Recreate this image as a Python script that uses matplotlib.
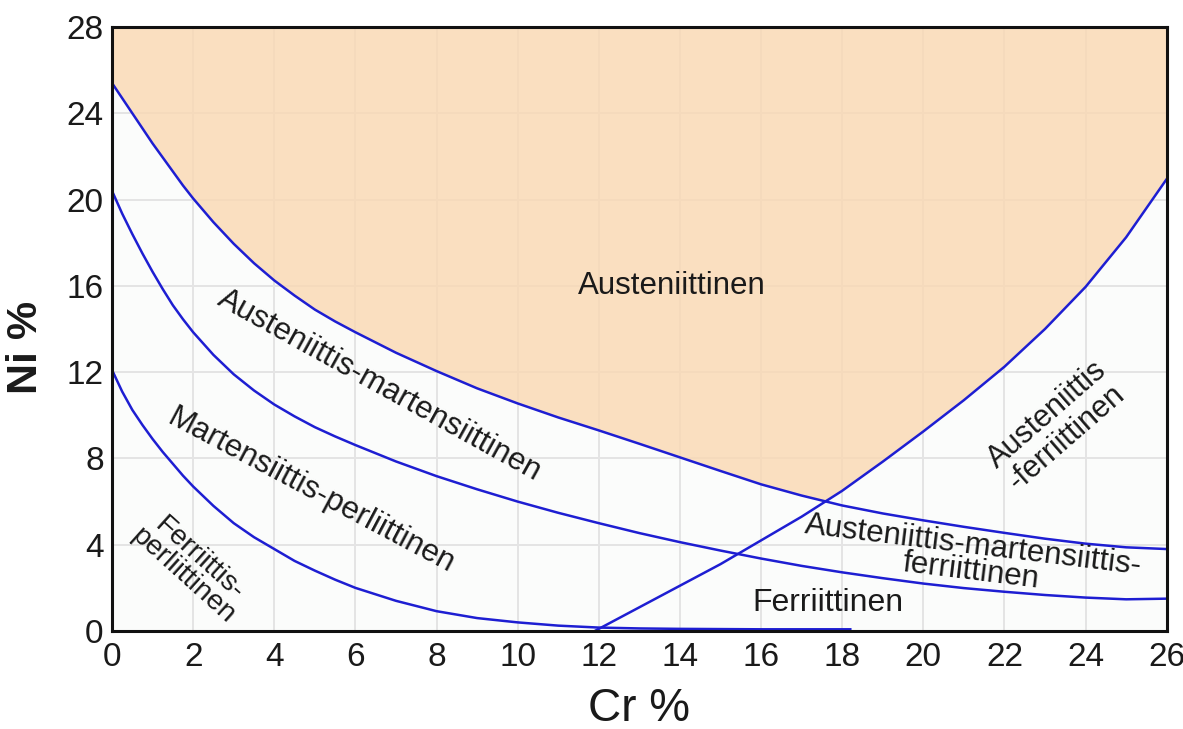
import numpy as np
import matplotlib
matplotlib.use('Agg')
import matplotlib.pyplot as plt

plt.rcParams['font.family'] = ['Liberation Sans', 'DejaVu Sans']

# boundary curves (Cr %, Ni %)
upper_cr = [0, 0.25, 0.5, 0.75, 1, 1.25, 1.5, 1.75, 2, 2.5, 3, 3.5, 4, 4.5,
            5, 5.5, 6, 7, 8, 9, 10, 11, 12, 13, 14, 15, 16, 17, 18, 19, 20,
            21, 22, 23, 24, 25, 26]
upper_ni = [25.4, 24.7, 24.0, 23.3, 22.6, 21.95, 21.3, 20.65, 20.05, 18.95,
            17.95, 17.05, 16.25, 15.55, 14.9, 14.35, 13.85, 12.9, 12.05,
            11.25, 10.55, 9.9, 9.3, 8.68, 8.05, 7.42, 6.8, 6.28, 5.82, 5.45,
            5.13, 4.83, 4.55, 4.28, 4.05, 3.88, 3.8]

middle_cr = [0, 0.25, 0.5, 0.75, 1, 1.25, 1.5, 1.75, 2, 2.5, 3, 3.5, 4, 4.5,
             5, 5.5, 6, 7, 8, 9, 10, 11, 12, 13, 14, 15, 16, 17, 18, 19, 20,
             21, 22, 23, 24, 25, 26]
middle_ni = [20.4, 19.35, 18.4, 17.5, 16.65, 15.85, 15.1, 14.45, 13.85, 12.8,
             11.9, 11.15, 10.5, 9.95, 9.45, 9.02, 8.62, 7.86, 7.18, 6.57,
             6.0, 5.48, 5.0, 4.54, 4.12, 3.73, 3.36, 3.02, 2.72, 2.45, 2.2,
             1.99, 1.82, 1.67, 1.55, 1.47, 1.5]

lower_cr = [0, 0.25, 0.5, 0.75, 1, 1.25, 1.5, 1.75, 2, 2.5, 3, 3.5, 4, 4.5,
            5, 5.5, 6, 7, 8, 9, 10, 11, 12, 13, 14, 16, 18.2]
lower_ni = [12.1, 11.1, 10.25, 9.55, 8.9, 8.3, 7.75, 7.2, 6.7, 5.8, 5.0,
            4.35, 3.8, 3.25, 2.8, 2.38, 2.0, 1.4, 0.92, 0.6, 0.4, 0.25, 0.16,
            0.12, 0.1, 0.08, 0.08]

ferrite_cr = [11.9, 13, 14, 15, 16, 17, 18, 19, 20, 21, 22, 23, 24, 25, 26]
ferrite_ni = [0, 1.1, 2.1, 3.1, 4.2, 5.3, 6.5, 7.85, 9.25, 10.7, 12.25, 14.0,
              15.95, 18.25, 20.95]

# where the upper curve meets the rising ferrite line
crossing = (17.6, 6.0)

xticks = list(range(0, 27, 2))
yticks = list(range(0, 29, 4))

fig = plt.figure(figsize=(11.83, 7.29), dpi=100)
ax = fig.add_axes([0.0947, 0.1344, 0.8915, 0.8286])
ax.set_facecolor('#fbfcfb')

# austenite field: above the upper curve up to the crossing, then above the ferrite line
poly = [(x, y) for x, y in zip(upper_cr, upper_ni) if x < crossing[0]]
poly.append(crossing)
poly += [(x, y) for x, y in zip(ferrite_cr, ferrite_ni) if x > crossing[0]]
poly += [(26, 28), (0, 28)]
px, py = zip(*poly)
ax.fill(px, py, color='#fad8b2', alpha=0.8, lw=0, zorder=1)

line_col = '#1e1ed2'
for cx, cy in [(upper_cr, upper_ni), (middle_cr, middle_ni),
               (lower_cr, lower_ni), (ferrite_cr, ferrite_ni)]:
    ax.plot(cx, cy, color=line_col, lw=1.8, zorder=3,
            solid_joinstyle='round')

txt = dict(color='#1a1a1a', ha='center', va='center', zorder=4,
           rotation_mode='anchor', multialignment='center')
ax.text(13.8, 16.0, 'Austeniittinen', fontsize=22.5, **txt)
ax.text(6.6, 11.4, 'Austeniittis-martensiittinen', fontsize=22.5,
        rotation=-29, **txt)
ax.text(4.9, 6.5, 'Martensiittis-perliittinen', fontsize=22.5,
        rotation=-28, **txt)
ax.text(1.95, 2.95, 'Ferriittis-\nperliittinen', fontsize=20.5, rotation=-42,
        linespacing=0.85, **txt)
ax.text(23.3, 9.5, 'Austeniittis\n-ferriittinen', fontsize=22,
        rotation=41, linespacing=1.0, **txt)
ax.text(21.2, 3.35, 'Austeniittis-martensiittis-\nferriittinen', fontsize=22.5,
        rotation=-7, linespacing=0.85, **txt)
ax.text(17.65, 1.3, 'Ferriittinen', fontsize=23, **txt)

ax.set_xlim(0, 26)
ax.set_ylim(0, 28)
ax.set_xticks(xticks)
ax.set_yticks(yticks)
ax.grid(True, color='#e4e4e4', lw=1.4, zorder=0)
ax.set_axisbelow(True)
ax.tick_params(axis='both', length=0, labelsize=24, colors='#1a1a1a')
ax.tick_params(axis='x', pad=8)
ax.tick_params(axis='y', pad=6)
for s in ax.spines.values():
    s.set_linewidth(2.2)
    s.set_color('#111111')
    s.set_zorder(5)

ax.set_xlabel('Cr %', fontsize=33, color='#1a1a1a')
ax.xaxis.set_label_coords(0.5, -0.093)
ax.set_ylabel('Ni %', fontsize=31, fontweight='bold', color='#1a1a1a')
ax.yaxis.set_label_coords(-0.063, 0.47)

fig.savefig('out.png', dpi=100)
